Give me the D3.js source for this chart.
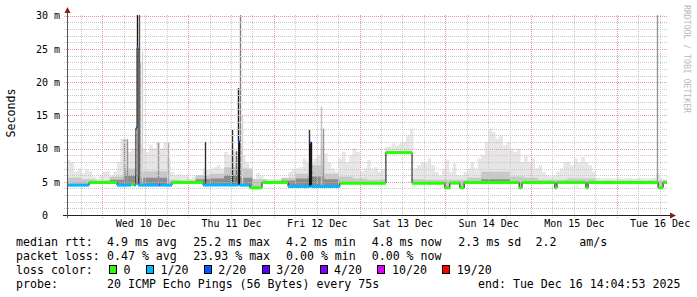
<!DOCTYPE html>
<html><head><meta charset="utf-8">
<script src="https://cdn.jsdelivr.net/npm/d3@7"></script>
<style>
body{margin:0;background:#fff}
svg text{font-family:"DejaVu Sans Mono",monospace}
</style></head><body>
<svg width="697" height="297"></svg>
<script>
// graph start = end - 7 days, all data times are hours after start
var startTime = Date.UTC(2025, 11, 9, 14, 4, 53);
var spanHours = 168;

// median rtt steps: [start hour, ms, loss index]
var medianSteps = [
  [0, 4.5, 1], [6.2, 4.9, 0], [14.0, 4.5, 1], [17.9, 4.6, 0], [18.8, 4.5, 1],
  [19.3, 13.1, 2], [19.6, 25.2, 2], [19.9, 4.5, 1], [25.8, 4.5, 5], [26.1, 4.5, 1],
  [29.4, 4.9, 0], [38.1, 4.5, 1], [48.0, 11.1, 2], [48.3, 4.5, 1], [51.2, 4.1, 0],
  [54.6, 4.9, 0], [61.9, 4.3, 1], [67.9, 10.9, 2], [68.2, 4.3, 1], [76.4, 4.8, 0],
  [89.3, 9.4, 0], [96.6, 4.8, 0], [105.8, 4.1, 0], [107.2, 4.8, 0], [110.0, 4.1, 0],
  [111.2, 4.9, 0], [126.6, 4.1, 0], [127.4, 4.9, 0], [136.6, 4.1, 0], [137.2, 4.9, 0],
  [145.3, 4.1, 0], [145.9, 4.9, 0], [165.5, 4.1, 0], [166.9, 4.9, 0]
];

// highest ping per hour (ms)
var smokeMax = [
  8.3, 8.0, 6.5, 7.0, 6.3, 6.8, 6.6, 5.8, 5.5, 6.0,
  6.5, 6.6, 5.5, 6.5, 8.0, 11.5, 11.5, 9.5, 10.0, 12.0,
  11.0, 10.0, 9.5, 10.5, 10.0, 11.0, 10.0, 11.0, 8.5, 6.5,
  6.0, 6.2, 6.0, 6.0, 5.5, 5.8, 5.6, 6.0, 7.0, 6.8,
  7.0, 7.2, 7.5, 7.0, 9.5, 9.0, 9.6, 9.5, 10.0, 9.0,
  8.0, 6.5, 5.5, 6.3, 6.0, 5.3, 5.4, 5.4, 5.4, 5.4,
  5.4, 5.4, 6.5, 6.8, 7.0, 7.2, 8.5, 8.0, 8.0, 8.5,
  9.0, 10.5, 9.3, 8.0, 7.0, 6.5, 8.5, 9.5, 8.0, 9.0,
  10.0, 9.5, 6.5, 7.0, 8.3, 7.0, 7.2, 6.5, 6.8, 10.2,
  10.3, 10.8, 10.5, 10.8, 11.0, 12.0, 13.0, 7.0, 7.5, 8.0,
  7.8, 8.5, 7.5, 6.5, 6.0, 7.0, 8.3, 6.5, 7.8, 6.0,
  6.0, 6.5, 7.0, 8.0, 7.0, 8.5, 9.0, 11.0, 13.0, 12.5,
  11.5, 12.0, 10.5, 11.0, 10.0, 9.5, 10.0, 8.0, 9.0, 8.0,
  8.5, 7.0, 7.5, 6.5, 6.0, 5.8, 6.0, 6.5, 7.0, 8.0,
  8.0, 7.5, 8.5, 8.0, 8.7, 8.0, 7.5, 6.5, 5.6, 5.5,
  5.5, 5.6, 5.5, 5.5, 5.6, 5.5, 5.5, 5.6, 5.5, 5.5,
  5.6, 5.5, 5.5, 5.5, 5.6, 6.3, 5.5, 5.4
];

// upper quartile-ish ping per 4 hours (ms)
var smokeMid = [
  5.6, 5.4, 5.2, 5.8, 7.0, 6.6, 6.6, 5.3, 5.2, 6.0,
  6.2, 7.2, 7.0, 5.4, 5.2, 5.6, 6.2, 7.5, 6.2, 5.8,
  5.5, 5.3, 5.4, 5.4, 5.4, 5.3, 5.3, 5.3, 5.6, 6.5,
  6.5, 5.8, 5.6, 5.3, 5.3, 5.5, 5.5, 5.2, 5.2, 5.2,
  5.2, 5.2
];

// dense ping band per 4 hours (ms), 0 = none
var smokeDense = [
  0, 0, 0, 5.3, 6.0, 5.6, 5.6, 0, 0, 5.4,
  5.5, 6.0, 5.6, 0, 0, 5.2, 5.5, 5.8, 5.4, 0,
  0, 0, 0, 0, 0, 0, 0, 0, 0, 5.4,
  5.4, 0, 0, 0, 0, 0, 0, 0, 0, 0,
  0, 0
];

// single outliers: [hour, ms, pings at that height]
var spikes = [
  [16.0, 11.4, 5], [16.8, 11.4, 4], [19.7, 30.1, 10], [20.1, 30.1, 7], [20.4, 22.9, 3],
  [20.9, 24.6, 1], [25.5, 10.9, 4], [28.3, 10.9, 3], [38.5, 11.0, 9], [46.1, 12.8, 9],
  [47.3, 9.6, 6], [48.0, 19.1, 10], [48.3, 30.1, 5], [49.1, 15.0, 1], [67.8, 12.8, 9],
  [68.3, 11.0, 10], [71.1, 16.3, 2], [71.7, 13.0, 4], [165.3, 30.1, 4]
];

var yTicks = [0, 5, 10, 15, 20, 25, 30];
var lossLabels = ["0", "1/20", "2/20", "3/20", "4/20", "10/20", "19/20"];
var lossColors = ["#26ff00", "#00b8ff", "#0059ff", "#5e00ff", "#7e00ff", "#dd00ff", "#ff0000"];
var rttStats = ["4.9 ms avg", "25.2 ms max", "4.2 ms min", "4.8 ms now", "2.3 ms sd", "2.2", "am/s"];
var lossStats = ["0.47 % avg", "23.93 % max", "0.00 % min", "0.00 % now"];
var probeText = "20 ICMP Echo Pings (56 Bytes) every 75s";
var endText = "end: Tue Dec 16 14:04:53 2025";

var svg = d3.select("svg");
var L = 67, R = 667, T = 15, B = 215;
var at = h => new Date(startTime + h * 3600e3);
var x = d3.scaleUtc().domain([at(0), at(spanHours)]).range([L, R]);
var y = d3.scaleLinear().domain([0, 30.12]).range([B, T]);
var shade = d3.scaleLinear().domain([1, 10]).range(["#d4d4d4", "#1a1a1a"]);

function medianAt(h) {
  var s = medianSteps[0];
  medianSteps.forEach(d => { if (d[0] <= h) s = d; });
  return s;
}

// smoke layers: area between median and a stepped top
function smokeLayer(vals, binHours, color) {
  var times = d3.range(0, spanHours, binHours).concat(medianSteps.map(d => d[0]));
  times = Array.from(new Set(times)).sort((a, b) => a - b);
  var pts = times.map(t => {
    var v = vals[Math.min(vals.length - 1, Math.floor(t / binHours))];
    var m = medianAt(t)[1];
    return {t: t, m: m, v: Math.max(v, m)};
  });
  var last = pts[pts.length - 1];
  pts.push({t: spanHours, m: last.m, v: last.v});
  svg.append("path")
    .attr("fill", color)
    .attr("d", d3.area().curve(d3.curveStepAfter)
      .x(d => x(at(d.t))).y0(d => y(d.m)).y1(d => y(d.v))(pts));
}
smokeLayer(smokeMax, 1, "#e6e6e6");
smokeLayer(smokeMid, 4, "#c8c8c8");
smokeLayer(smokeDense, 4, "#8c8c8c");

svg.append("g").selectAll("line").data(spikes).enter().append("line")
  .attr("x1", d => Math.round(x(at(d[0]))) + 0.5).attr("x2", d => Math.round(x(at(d[0]))) + 0.5)
  .attr("y1", d => y(medianAt(d[0])[1])).attr("y2", d => y(d[1]))
  .attr("stroke", d => shade(d[2])).attr("stroke-width", 1.4);

// grid on top of the smoke
var grid = svg.append("g").attr("shape-rendering", "crispEdges").attr("stroke-dasharray", "1,1");
var minorY = d3.range(1, 31).filter(v => v % 5 != 0);
var majorY = yTicks.filter(v => v > 0);
var days = d3.utcDay.range(at(0), at(spanHours));
var minorX = d3.utcHour.every(6).range(at(0), at(spanHours)).filter(d => d.getUTCHours() != 0);
grid.selectAll(".mny").data(minorY).enter().append("line")
  .attr("x1", L - 3).attr("x2", R).attr("y1", d => Math.round(y(d)) + 0.5).attr("y2", d => Math.round(y(d)) + 0.5)
  .attr("stroke", "#c8c8c8");
grid.selectAll(".mnx").data(minorX).enter().append("line")
  .attr("y1", T).attr("y2", B + 3).attr("x1", d => Math.round(x(d)) + 0.5).attr("x2", d => Math.round(x(d)) + 0.5)
  .attr("stroke", "#c8c8c8");
grid.selectAll(".mjy").data(majorY).enter().append("line")
  .attr("x1", L - 3).attr("x2", R).attr("y1", d => Math.round(y(d)) + 0.5).attr("y2", d => Math.round(y(d)) + 0.5)
  .attr("stroke", "#e49a9a");
grid.selectAll(".mjx").data(days).enter().append("line")
  .attr("y1", T).attr("y2", B + 3).attr("x1", d => Math.round(x(d)) + 0.5).attr("x2", d => Math.round(x(d)) + 0.5)
  .attr("stroke", "#e49a9a");

// median: thin black step line, then loss coloured bars
var medPts = medianSteps.concat([[spanHours, medianSteps[medianSteps.length - 1][1], 0]]);
svg.append("path").attr("fill", "none").attr("stroke", "#111").attr("stroke-width", 1)
  .attr("d", d3.line().curve(d3.curveStepAfter).x(d => x(at(d[0]))).y(d => y(d[1]))(medPts));
svg.append("g").selectAll("line").data(medianSteps).enter().append("line")
  .attr("x1", d => x(at(d[0])))
  .attr("x2", (d, i) => x(at(i + 1 < medianSteps.length ? medianSteps[i + 1][0] : spanHours)))
  .attr("y1", d => y(d[1])).attr("y2", d => y(d[1]))
  .attr("stroke", d => lossColors[d[2]]).attr("stroke-width", 3);

// axes lines + arrows
svg.append("line").attr("x1", L - 4).attr("x2", R + 4).attr("y1", B + 0.5).attr("y2", B + 0.5)
  .attr("stroke", "#222").attr("shape-rendering", "crispEdges");
svg.append("line").attr("x1", L + 0.5).attr("x2", L + 0.5).attr("y1", B + 3).attr("y2", T - 4)
  .attr("stroke", "#555").attr("shape-rendering", "crispEdges");
svg.append("path").attr("fill", "#8b1a1a").attr("d", `M${L + 0.5},${T - 8}L${L - 2.5},${T - 2}L${L + 3.5},${T - 2}Z`);
svg.append("path").attr("fill", "#8b1a1a").attr("d", `M${R + 9},${B + 0.5}L${R + 3},${B - 2.5}L${R + 3},${B + 3.5}Z`);

// tick labels via d3 axes
var yAxis = svg.append("g").attr("transform", `translate(${L},0)`)
  .call(d3.axisLeft(y).tickValues(yTicks).tickSize(0).tickPadding(7)
    .tickFormat(d => d ? d + " m" : "0\u00a0\u00a0"));
var noon = days.map(d => d3.utcHour.offset(d, 12)).filter(d => d < at(spanHours));
var xAxis = svg.append("g").attr("transform", `translate(0,${B})`)
  .call(d3.axisBottom(x).tickValues(noon).tickSize(0).tickPadding(5)
    .tickFormat(d3.utcFormat("%a %d %b")));
[yAxis, xAxis].forEach(g => {
  g.select(".domain").remove();
  g.attr("font-family", "DejaVu Sans Mono").attr("font-size", 10);
  g.selectAll("text").attr("fill", "#000");
});

svg.append("text").attr("transform", "translate(14.5,113) rotate(-90)")
  .attr("text-anchor", "middle").attr("font-size", 11.6).text("Seconds");
svg.append("text").attr("transform", "translate(683.5,5) rotate(90)")
  .attr("font-size", 8.5).attr("fill", "#b8b8b8")
  .attr("textLength", 108).attr("lengthAdjust", "spacingAndGlyphs")
  .text("RRDTOOL / TOBI OETIKER");

// legend
var lg = svg.append("g").attr("font-size", 11.6).attr("fill", "#000");
var cw = 6.97, rows = [245.5, 259.5, 273.5, 287.5];
var statX = [107, 193.3, 286, 371.7, 458.3, 535.5, 579.3];
lg.append("text").attr("x", 16).attr("y", rows[0]).text("median rtt:");
rttStats.forEach((s, i) => lg.append("text").attr("x", statX[i]).attr("y", rows[0]).text(s));
lg.append("text").attr("x", 16).attr("y", rows[1]).text("packet loss:");
lossStats.forEach((s, i) => lg.append("text").attr("x", statX[i]).attr("y", rows[1]).text(s));
lg.append("text").attr("x", 16).attr("y", rows[2]).text("loss color:");
var cx = 109;
lossLabels.forEach((s, i) => {
  lg.append("rect").attr("x", cx + 0.5).attr("y", rows[2] - 8).attr("width", 7).attr("height", 8)
    .attr("fill", lossColors[i]).attr("stroke", "#000").attr("shape-rendering", "crispEdges");
  lg.append("text").attr("x", cx + 14.5).attr("y", rows[2]).text(s);
  cx = cx + 14.5 + s.length * cw + 15.5;
});
lg.append("text").attr("x", 16).attr("y", rows[3]).text("probe:");
lg.append("text").attr("x", statX[0]).attr("y", rows[3]).text(probeText);
lg.append("text").attr("x", 478).attr("y", rows[3]).text(endText);
</script>
</body></html>
